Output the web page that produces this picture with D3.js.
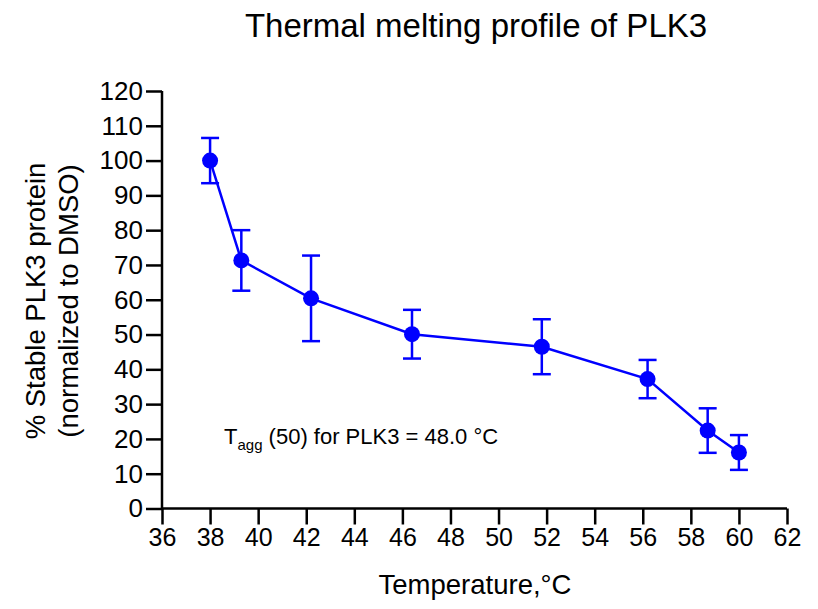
<!DOCTYPE html>
<html>
<head>
<meta charset="utf-8">
<script src="https://cdn.jsdelivr.net/npm/d3@7"></script>
<style>
  html, body { margin: 0; padding: 0; background: #fff; }
  svg text { font-family: "Liberation Sans", Arial, Helvetica, sans-serif; fill: #000; }
</style>
</head>
<body>
<svg id="chart" width="818" height="609"></svg>
<script>
// ---- data ----
const temperatures = [38.0, 39.3, 42.2, 46.4, 51.8, 56.2, 58.7, 60.0];
const stableMean   = [100.0, 71.3, 60.4, 50.1, 46.5, 37.2, 22.4, 16.1];
const stableErr    = [6.5, 8.7, 12.3, 7.0, 7.9, 5.5, 6.4, 5.0];
const xTicks = [36, 38, 40, 42, 44, 46, 48, 50, 52, 54, 56, 58, 60, 62];
const yTicks = [0, 10, 20, 30, 40, 50, 60, 70, 80, 90, 100, 110, 120];
const titleText = "Thermal melting profile of PLK3";
const xLabel = "Temperature,°C";
const yLabel1 = "% Stable PLK3 protein";
const yLabel2 = "(normalized to DMSO)";

// ---- layout ----
const svg = d3.select("#chart");
const plotLeft = 162, plotRight = 787, plotTop = 91, plotBottom = 508.5;
const blue = "#0000ff";

const x = d3.scaleLinear().domain([36, 62]).range([plotLeft, plotRight]);
const y = d3.scaleLinear().domain([0, 120]).range([plotBottom, plotTop]);

const data = temperatures.map((t, i) => ({ t, m: stableMean[i], e: stableErr[i] }));

// axes
const xAxis = svg.append("g")
  .attr("transform", `translate(0,${plotBottom})`)
  .call(d3.axisBottom(x).tickValues(xTicks).tickSize(16).tickPadding(4).tickFormat(d3.format("d")));
const yAxis = svg.append("g")
  .attr("transform", `translate(${plotLeft},0)`)
  .call(d3.axisLeft(y).tickValues(yTicks).tickSize(16).tickPadding(3).tickFormat(d3.format("d")));

[xAxis, yAxis].forEach(g => {
  g.select(".domain").attr("stroke", "#000").attr("stroke-width", 2.5);
  g.selectAll(".tick line").attr("stroke", "#000").attr("stroke-width", 2.5);
  g.selectAll(".tick text").attr("font-family", '"Liberation Sans", Arial, sans-serif').attr("fill", "#000");
});
xAxis.selectAll(".tick text").attr("font-size", 25);
yAxis.selectAll(".tick text").attr("font-size", 26);
xAxis.select(".domain").attr("d", `M${plotLeft},0H${plotRight}`);
yAxis.select(".domain").attr("d", `M0,${plotTop}V${plotBottom + 1}`);

// connecting line
svg.append("path")
  .datum(data)
  .attr("fill", "none")
  .attr("stroke", blue)
  .attr("stroke-width", 2.5)
  .attr("d", d3.line().x(d => x(d.t)).y(d => y(d.m)));

// error bars
const eb = svg.append("g").attr("stroke", blue).attr("stroke-width", 2.5);
const capW = 9;
data.forEach(d => {
  const cx = x(d.t);
  eb.append("line").attr("x1", cx).attr("x2", cx).attr("y1", y(d.m - d.e)).attr("y2", y(d.m + d.e));
  eb.append("line").attr("x1", cx - capW).attr("x2", cx + capW).attr("y1", y(d.m + d.e)).attr("y2", y(d.m + d.e));
  eb.append("line").attr("x1", cx - capW).attr("x2", cx + capW).attr("y1", y(d.m - d.e)).attr("y2", y(d.m - d.e));
});

// markers
svg.append("g").selectAll("circle").data(data).join("circle")
  .attr("cx", d => x(d.t)).attr("cy", d => y(d.m)).attr("r", 8)
  .attr("fill", blue);

// title
svg.append("text").attr("x", 476).attr("y", 37).attr("text-anchor", "middle")
  .attr("font-size", 33).text(titleText);

// x label
svg.append("text").attr("x", 475).attr("y", 594).attr("text-anchor", "middle")
  .attr("font-size", 27.5).text(xLabel);

// y label
const yl = svg.append("text").attr("transform", "translate(0,301) rotate(-90)")
  .attr("text-anchor", "middle").attr("font-size", 27.5);
yl.append("tspan").attr("x", 0).attr("y", 45).text(yLabel1);
yl.append("tspan").attr("x", 0).attr("y", 78).text(yLabel2);

// annotation
const ann = svg.append("text").attr("x", 224).attr("y", 444).attr("font-size", 22);
ann.append("tspan").text("T");
ann.append("tspan").attr("font-size", 15).attr("dy", 6).text("agg");
ann.append("tspan").attr("dy", -6).text(" (50) for PLK3 = 48.0 °C");
</script>
</body>
</html>
